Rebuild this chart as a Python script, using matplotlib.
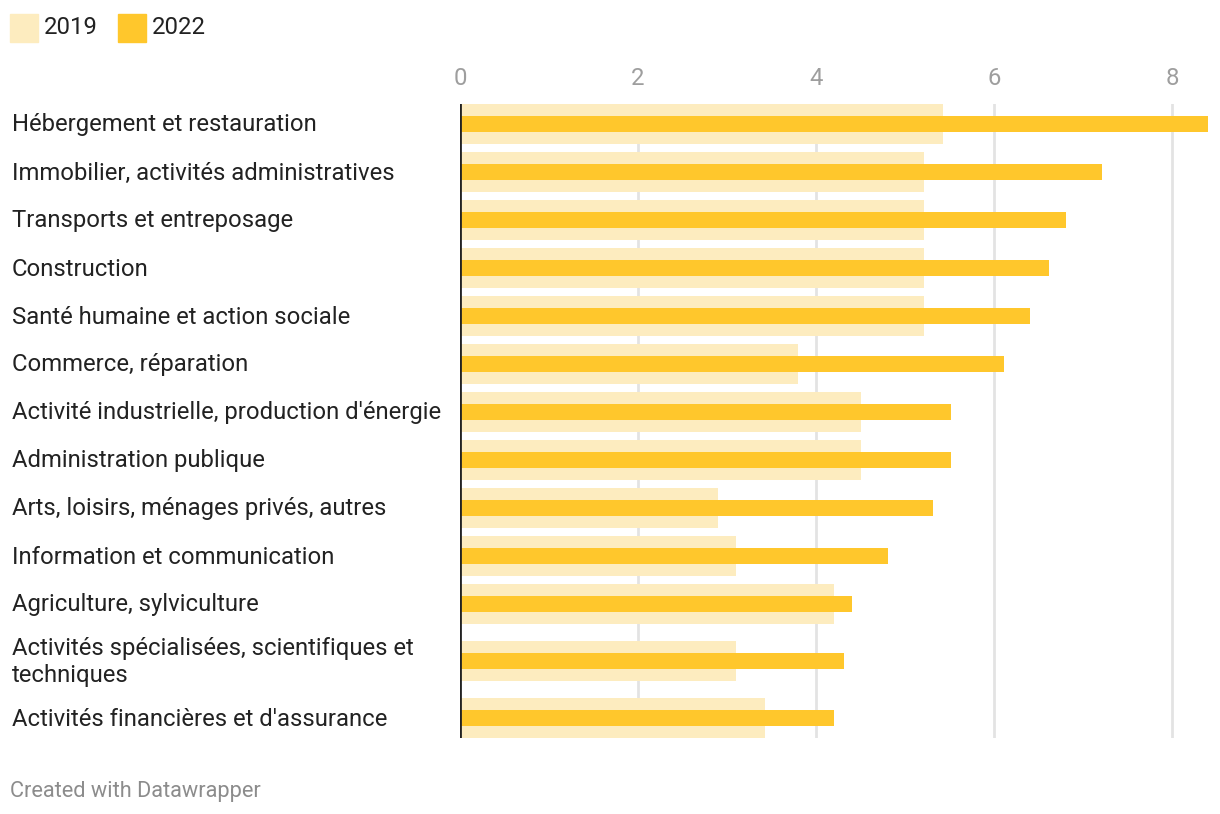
import matplotlib.pyplot as plt
from matplotlib.patches import Rectangle
from matplotlib.transforms import blended_transform_factory
import numpy as np

LIGHT, GOLD, DARK, GREY, GRID = "#FDECBF", "#FFC72C", "#222222", "#9E9E9E", "#E3E3E3"
FS = 17.2
plt.rcParams.update({"font.family": ["Roboto", "DejaVu Sans"], "font.size": FS})

categories = [
    "Hébergement et restauration",
    "Immobilier, activités administratives",
    "Transports et entreposage",
    "Construction",
    "Santé humaine et action sociale",
    "Commerce, réparation",
    "Activité industrielle, production d'énergie",
    "Administration publique",
    "Arts, loisirs, ménages privés, autres",
    "Information et communication",
    "Agriculture, sylviculture",
    "Activités spécialisées, scientifiques et\ntechniques",
    "Activités financières et d'assurance",
]
v2019 = [5.42, 5.21, 5.21, 5.21, 5.21, 3.8, 4.5, 4.5, 2.9, 3.1, 4.2, 3.1, 3.42]
v2022 = [8.4, 7.21, 6.81, 6.61, 6.4, 6.11, 5.51, 5.51, 5.31, 4.81, 4.4, 4.31, 4.2]
xticks = [0, 2, 4, 6, 8]

W, H = 1220, 814
fig = plt.figure(figsize=(W / 100, H / 100), dpi=100)
ax = fig.add_axes([460 / W, 1 - 738 / H, (1208 - 460) / W, (738 - 104) / H])

# row layout in pixel-like units: taller rows for wrapped labels
bar_h, inner_h = 40, 16
row_h = np.array([48 + 18 * (c.count("\n")) for c in categories])
centers = np.cumsum(row_h) - row_h / 2 - (row_h[0] / 2 - bar_h / 2)
ax.set_ylim(centers[-1] + bar_h / 2, 0)
ax.set_xlim(0, max(v2022))

ax.barh(centers, v2019, height=bar_h, color=LIGHT, zorder=2)
ax.barh(centers, v2022, height=inner_h, color=GOLD, zorder=3)

for t in xticks[1:]:
    ax.axvline(t, color=GRID, lw=2, zorder=1)
ax.axvline(0, color=DARK, lw=2, zorder=4)

ax.xaxis.tick_top()
ax.set_xticks(xticks)
ax.set_xticklabels([str(t) for t in xticks], color=GREY, fontsize=FS)
ax.tick_params(axis="x", length=0, pad=10)
ax.set_yticks([])
for s in ax.spines.values():
    s.set_visible(False)

tr = blended_transform_factory(fig.transFigure, ax.transData)
for c, y in zip(categories, centers):
    ax.text(12 / W, y + 1, c, transform=tr, ha="left", va="center",
            color=DARK, fontsize=FS, linespacing=1.25, clip_on=False)

# legend
for x0, lab, col in ((10, "2019", LIGHT), (118, "2022", GOLD)):
    fig.patches.append(Rectangle((x0 / W, 1 - 42 / H), 28 / W, 28 / H,
                                 transform=fig.transFigure, color=col))
    fig.text((x0 + 34) / W, 1 - 27 / H, lab, ha="left", va="center",
             color=DARK, fontsize=FS)

fig.text(10 / W, 1 - 791 / H, "Created with Datawrapper", ha="left",
         va="center", color="#8C8C8C", fontsize=15.7)

fig.savefig("out.png", dpi=100)
